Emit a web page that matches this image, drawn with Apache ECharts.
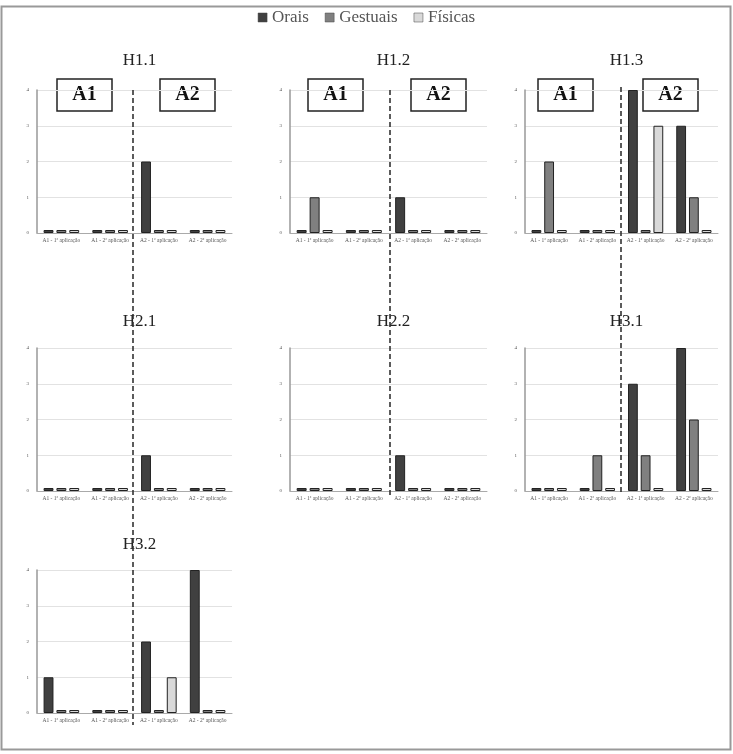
<!DOCTYPE html>
<html><head><meta charset="utf-8">
<script src="https://cdn.jsdelivr.net/npm/echarts@6/dist/echarts.min.js"></script>
<style>html,body{margin:0;padding:0;background:#fff}#c{width:733px;height:754px}</style>
</head><body><div id="c"></div>
<script>
const categories = ["A1 - 1ª aplicação","A1 - 2ª aplicação","A2 - 1ª aplicação","A2 - 2ª aplicação"];
const seriesNames = ["Orais","Gestuais","Físicas"];
const yTicks = [0,1,2,3,4];
const panelTitles = ["H1.1","H1.2","H1.3","H2.1","H2.2","H3.1","H3.2"];
const orais    = [[0,0,2,0],[0,0,1,0],[0,0,4,3],[0,0,1,0],[0,0,1,0],[0,0,3,4],[1,0,2,4]];
const gestuais = [[0,0,0,0],[1,0,0,0],[2,0,0,1],[0,0,0,0],[0,0,0,0],[0,1,1,2],[0,0,0,0]];
const fisicas  = [[0,0,0,0],[0,0,0,0],[0,0,3,0],[0,0,0,0],[0,0,0,0],[0,0,0,0],[0,0,1,0]];

const colors = ["#404040","#808080","#d9d9d9"];
const colL = [37, 290, 525], colW = [195, 197, 193];
const rowT = [90, 348, 570], rowH = 143;
const titleY = [57, 318, 541];
const pos = [[0,0],[1,0],[2,0],[0,1],[1,1],[2,1],[0,2]];
const serif = "Liberation Serif";

const grids = [], xAxes = [], yAxes = [], series = [], titles = [];
pos.forEach(([c, r], i) => {
  grids.push({left: colL[c], top: rowT[r], width: colW[c], height: rowH});
  titles.push({text: panelTitles[i], left: colL[c] + colW[c]/2, top: titleY[r] - 10, textAlign: 'center',
    textStyle: {fontFamily: serif, fontWeight: 'normal', fontSize: 17, color: '#222'}});
  xAxes.push({type: 'category', gridIndex: i, data: categories,
    axisLine: {lineStyle: {color: '#aaa', width: 1}}, axisTick: {show: false},
    axisLabel: {interval: 0, fontSize: 5.5, fontFamily: serif, color: '#555', margin: 5}});
  yAxes.push({type: 'value', gridIndex: i, min: yTicks[0], max: yTicks[yTicks.length-1], interval: 1,
    axisLine: {show: true, lineStyle: {color: '#999', width: 1.5}}, axisTick: {show: false},
    splitLine: {lineStyle: {color: '#e2e2e2'}},
    axisLabel: {fontSize: 5, fontFamily: serif, color: '#555', margin: 8}});
  [orais, gestuais, fisicas].forEach((arr, k) => {
    series.push({name: seriesNames[k], type: 'bar', xAxisIndex: i, yAxisIndex: i, data: arr[i],
      barMinHeight: 3, barGap: '30%', barCategoryGap: '27%',
      itemStyle: {color: colors[k], borderColor: '#222', borderWidth: 1}});
  });
});

const graphics = [];
graphics.push({type: 'rect', shape: {x: 1.5, y: 6.5, width: 729, height: 743},
  style: {fill: 'none', stroke: '#999', lineWidth: 2}, z: 100});
const dashes = [[133, 90, 725], [390, 90, 495], [621, 87, 495]];
dashes.forEach(([x, y1, y2]) => graphics.push({type: 'line', shape: {x1: x, y1: y1, x2: x, y2: y2},
  style: {stroke: '#333', lineWidth: 1.6, lineDash: [5, 3]}, z: 100}));
const boxes = [[57,'A1'],[160,'A2'],[308,'A1'],[411,'A2'],[538,'A1'],[643,'A2']];
boxes.forEach(([x, t]) => graphics.push({type: 'group', x: x, y: 79, z: 101, children: [
  {type: 'rect', shape: {x: 0, y: 0, width: 55, height: 32}, style: {fill: '#fff', stroke: '#222', lineWidth: 1.5}},
  {type: 'text', x: 27.5, y: 16, style: {text: t, fontFamily: serif, fontWeight: 'bold', fontSize: 20, fill: '#111', align: 'center', verticalAlign: 'middle'}}
]}));

const chart = echarts.init(document.getElementById('c'), null, {renderer: 'canvas'});
chart.setOption({
  animation: false,
  title: titles,
  legend: {top: 4, left: 'center', data: seriesNames, itemWidth: 9, itemHeight: 9, itemGap: 16,
    icon: 'rect', textStyle: {fontFamily: serif, fontSize: 17, color: '#555'},
    itemStyle: {borderColor: '#444', borderWidth: 0.5}},
  grid: grids, xAxis: xAxes, yAxis: yAxes, series: series, graphic: graphics
});
</script></body></html>
